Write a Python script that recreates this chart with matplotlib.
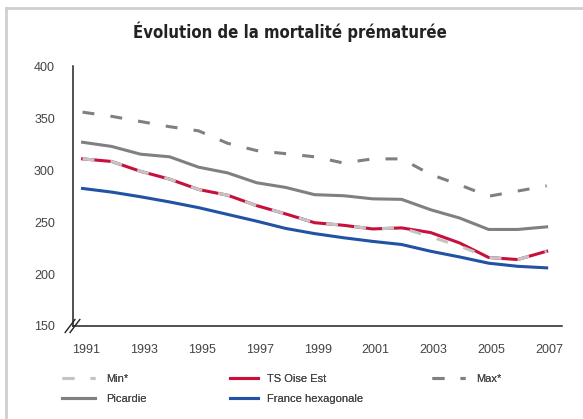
import matplotlib
matplotlib.use("Agg")
import matplotlib.pyplot as plt
import matplotlib.transforms as mtransforms
from matplotlib.lines import Line2D

years = list(range(1991, 2008))
tick_years = [1991, 1993, 1995, 1997, 1999, 2001, 2003, 2005, 2007]

max_vals = [356, 352, 347, 342, 338, 326, 319, 316, 313, 307, 311, 311, 296, 286, 275, 280, 285]
picardie = [327, 323, 315.5, 313, 303, 297.5, 288, 283.5, 276.5, 275.5, 272.5, 272, 262, 254, 243, 243, 245.5]
ts_oise = [311, 308.5, 299, 291.5, 281.5, 276, 266, 258, 249.5, 247, 243.5, 244.5, 240, 230, 216, 214, 222]
min_vals = [311, 308.5, 299, 291.5, 281.5, 276, 266, 258, 249.5, 247, 243.5, 244.5, 236, 227, 216, 214, 222]
france = [282.5, 279, 274.5, 269.5, 264, 257.5, 251, 244, 239, 235, 231.5, 228.5, 222, 216.5, 210.5, 207.5, 206]

c_grey = '#808084'
c_light = '#c4c4c6'
c_red = '#c8103c'
c_blue = '#2152a3'

plt.rcParams['font.family'] = ['Liberation Sans', 'DejaVu Sans']

fig = plt.figure(figsize=(5.83, 4.19), dpi=100)
ax = fig.add_axes([0.1252, 0.222, 0.8388, 0.6193])

lw = 2.2
ax.plot(years, max_vals, color=c_grey, lw=lw, dashes=(3.9, 5.3), label='Max*')
ax.plot(years, picardie, color=c_grey, lw=lw, label='Picardie')
ax.plot(years, france, color=c_blue, lw=lw, label='France hexagonale')
ax.plot(years, ts_oise, color=c_red, lw=lw, label='TS Oise Est')
ax.plot(years, min_vals, color=c_light, lw=lw, dashes=(3.9, 5.3), label='Min*')

ax.set_xlim(1990.67, 2007.53)
ax.set_ylim(150, 400)
ax.set_yticks([150, 200, 250, 300, 350, 400])
ax.set_xticks(tick_years)
ax.set_xticklabels([str(y) for y in tick_years])
ax.tick_params(length=0, labelsize=9, labelcolor='#444444')
ax.tick_params(axis='y', pad=13)
ax.tick_params(axis='x', pad=13)
# year labels sit a little right of their points in the original
shift = mtransforms.ScaledTranslation(3 / 100, 0, fig.dpi_scale_trans)
for lbl in ax.get_xticklabels():
    lbl.set_transform(lbl.get_transform() + shift)
for s in ['top', 'right']:
    ax.spines[s].set_visible(False)
for s in ['left', 'bottom']:
    ax.spines[s].set_color('#222222')
    ax.spines[s].set_linewidth(1.1)

# axis break mark at the origin
for dx in (-0.004, 0.006):
    ax.plot([-0.012 + dx, 0.008 + dx], [-0.025, 0.025], transform=ax.transAxes,
            color='#222222', lw=1.0, clip_on=False)

fig.text(0.497, 0.925, 'Évolution de la mortalité prématurée', ha='center', va='center',
         fontsize=12, fontweight='bold', family='DejaVu Sans', fontstretch='condensed',
         color='#222222')

# frame around the chart
fig.add_artist(Line2D([6 / 583, 1.0], [1 - 8 / 419, 1 - 8 / 419], transform=fig.transFigure,
                      color='#cfcfcf', lw=2))
fig.add_artist(Line2D([6 / 583, 6 / 583], [0, 1 - 8 / 419], transform=fig.transFigure,
                      color='#cfcfcf', lw=2))

handles = {l.get_label(): l for l in ax.get_lines()}
leg_kw = dict(frameon=False, fontsize=8, labelspacing=0.9, borderpad=0,
              borderaxespad=0, loc='upper left')
cols = [(['Min*', 'Picardie'], 62, 3.0, 1.0),
        (['TS Oise Est', 'France hexagonale'], 230, 2.5, 0.8),
        (['Max*'], 432, 3.0, 1.0)]
for names, x0, hl, tp in cols:
    leg = fig.legend([handles[n] for n in names], names, handlelength=hl, handletextpad=tp,
                     bbox_to_anchor=(x0 / 583, 1 - 374 / 419), **leg_kw)
    for t in leg.get_texts():
        t.set_color('#444444')
    fig.add_artist(leg)

fig.savefig('out.png', dpi=100)
